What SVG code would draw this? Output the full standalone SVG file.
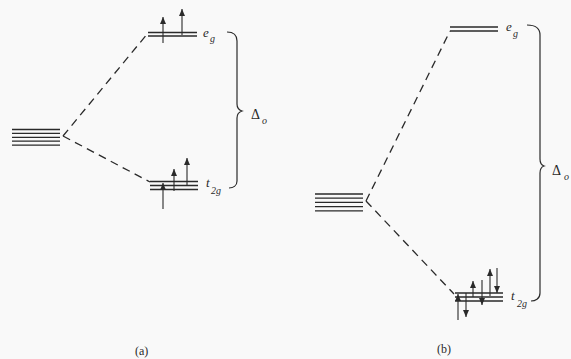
<svg xmlns="http://www.w3.org/2000/svg" width="571" height="359" viewBox="0 0 571 359">
<defs>
<style>
.lv{stroke:#2a2a2a;stroke-width:1.3;fill:none}
.dash{stroke:#2a2a2a;stroke-width:1.3;fill:none;stroke-dasharray:8 5.5}
.br{stroke:#2a2a2a;stroke-width:1.2;fill:none}
.ar{stroke:#2a2a2a;stroke-width:1.1;fill:none}
.lab{font-family:"Liberation Serif","DejaVu Serif",serif;font-style:italic;fill:#2a2a2a}
.dl{font-family:"Liberation Serif","DejaVu Serif",serif;font-style:normal;fill:#2a2a2a;font-size:14px}
.cap{font-family:"Liberation Serif","DejaVu Serif",serif;fill:#2a2a2a;font-size:12px}
</style>
<marker id="ah" viewBox="0 0 7 6" refX="7" refY="3" markerWidth="7" markerHeight="6" markerUnits="userSpaceOnUse" orient="auto">
<path d="M0,0 L7,3 L0,6 Z" fill="#2a2a2a"/>
</marker>
</defs>
<rect width="571" height="359" fill="#f9f9f9"/>

<g id="connectors">
<path class="dash" d="M63,136 L148,33"/>
<path class="dash" d="M63,136 L150,182"/>
<path class="dash" d="M366,201 L450,31"/>
<path class="dash" d="M366,201 L454,294"/>
</g>

<!-- Panel (a) -->
<g id="a-free-ion">
<path class="lv" d="M12,129.5H60M12,133.4H60M12,137.3H60M12,141.2H60M12,145.1H60"/>
</g>
<g id="a-eg">
<path class="lv" d="M148,32.5H197M148,36H197"/>
<line class="ar" x1="163" y1="43" x2="163" y2="17" marker-end="url(#ah)"/>
<line class="ar" x1="182" y1="35" x2="182" y2="9" marker-end="url(#ah)"/>
<text class="lab" x="203" y="37" font-size="13">e</text>
<text class="lab" x="210" y="42" font-size="10">g</text>
</g>
<g id="a-t2g">
<path class="lv" d="M150,181.5H198M150,185.5H198M150,189.5H198"/>
<line class="ar" x1="163" y1="209" x2="163" y2="183" marker-end="url(#ah)"/>
<line class="ar" x1="174" y1="191" x2="174" y2="169" marker-end="url(#ah)"/>
<line class="ar" x1="187" y1="185" x2="187" y2="158" marker-end="url(#ah)"/>
<text class="lab" x="206" y="187" font-size="13">t</text>
<text class="lab" x="211" y="194" font-size="10">2g</text>
</g>
<g id="a-delta">
<path class="br" d="M227,32 C233,32 237,35 237,41 L237,104 C237,108 239,110 242,111 C239,112 237,114 237,118 L237,181 C237,186 233,188 229,188"/>
<text class="dl" x="251" y="119">Δ</text>
<text class="lab" x="262" y="124" font-size="10">o</text>
</g>
<text class="cap" x="135" y="355">(a)</text>

<!-- Panel (b) -->
<g id="b-free-ion">
<path class="lv" d="M315,194H363M315,198.2H363M315,202.4H363M315,206.6H363M315,210.8H363"/>
</g>
<g id="b-eg">
<path class="lv" d="M450,27H498M450,31H498"/>
<text class="lab" x="506" y="31" font-size="13">e</text>
<text class="lab" x="513" y="37" font-size="10">g</text>
</g>
<g id="b-t2g">
<path class="lv" d="M455,293H503M455,297H503M455,301H503"/>
<line class="ar" x1="458" y1="320" x2="458" y2="294" marker-end="url(#ah)"/>
<line class="ar" x1="466" y1="293" x2="466" y2="317" marker-end="url(#ah)"/>
<line class="ar" x1="473" y1="297" x2="473" y2="281" marker-end="url(#ah)"/>
<line class="ar" x1="482" y1="280" x2="482" y2="305" marker-end="url(#ah)"/>
<line class="ar" x1="490" y1="296" x2="490" y2="269" marker-end="url(#ah)"/>
<line class="ar" x1="497" y1="268" x2="497" y2="293" marker-end="url(#ah)"/>
<text class="lab" x="511" y="300" font-size="13">t</text>
<text class="lab" x="517" y="307" font-size="10">2g</text>
</g>
<g id="b-delta">
<path class="br" d="M527,25 C535,25 540,28 540,35 L540,159 C540,163 541,165 544,166 C541,167 540,169 540,173 L540,293 C540,299 535,301 531,301"/>
<text class="dl" x="552" y="175">Δ</text>
<text class="lab" x="564" y="180" font-size="10">o</text>
</g>
<text class="cap" x="437" y="353">(b)</text>
</svg>
